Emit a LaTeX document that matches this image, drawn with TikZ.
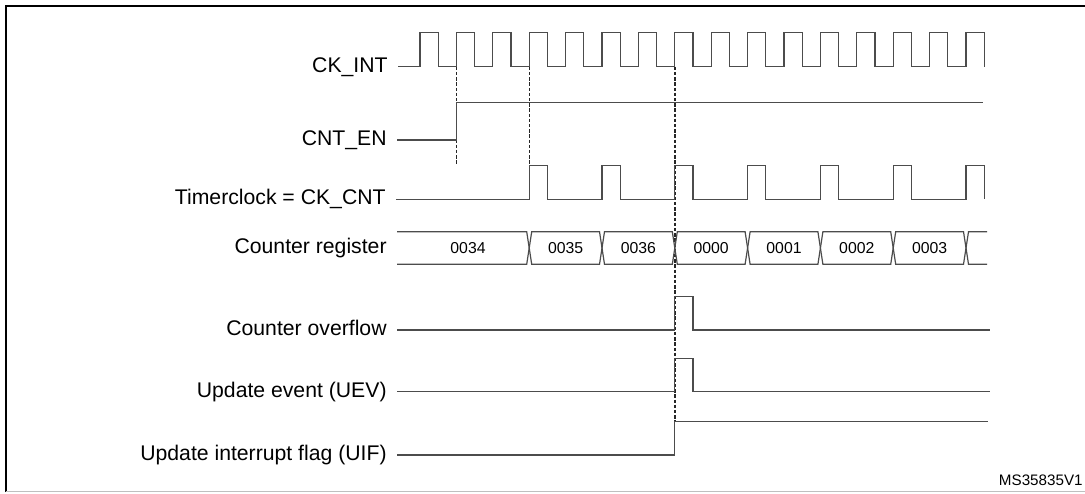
\documentclass[tikz,border=0pt]{standalone}
\usepackage{fontspec}
\setmainfont{Liberation Sans}
\begin{document}
\begin{tikzpicture}[x=0.5pt,y=-0.5pt,
    sig/.style={draw=black!70, line width=0.6pt},
    guide/.style={draw=black!85, line width=0.7pt, dash pattern=on 1.7pt off 0.9pt},
    lbl/.style={anchor=base east, inner sep=0pt, xshift=-5pt, yshift=-2.8pt, font=\fontsize{10.6}{12}\selectfont},
    val/.style={inner sep=0pt, font=\fontsize{7.9}{9}\selectfont}]
    \useasboundingbox (0,0) rectangle (1085,493);

    % Frame
    \draw[line width=1pt] (5.5,492) -- (5.5,5.5) -- (1095,5.5);
    \draw[black!25, line width=0.5pt] (5.5,491) -- (1085,491);

    % Signal start points
    \coordinate (ckint) at (398,66.7);
    \coordinate (cnten) at (397,140);
    \coordinate (ckcnt) at (396,199.3);
    \coordinate (cntreg) at (397,248);
    \coordinate (ovf) at (397,330);
    \coordinate (uev) at (397,391.7);
    \coordinate (uif) at (397,455);

    % Signal names
    \node[lbl] (lckint) at (ckint) {CK\_INT};
    \node[lbl] (lcnten) at (cnten) {CNT\_EN};
    \node[lbl] (lckcnt) at (ckcnt) {Timerclock = CK\_CNT};
    \node[lbl] (lcntreg) at (cntreg) {Counter register};
    \node[lbl] (lovf) at (ovf) {Counter overflow};
    \node[lbl] (luev) at (uev) {Update event (UEV)};
    \node[lbl] (luif) at (uif) {Update interrupt flag (UIF)};

    % Dashed guides
    \draw[guide] (456.4,66.7) -- (456.4,165);
    \draw[guide] (529.2,66.7) -- (529.2,199.3);
    \draw[guide] (674.8,66.7) -- (674.8,421.7);

    % CK_INT
    \draw[sig] (ckint) \foreach \k in {0,...,15} {
        -- ({420+36.4*\k},66.7) -- ({420+36.4*\k},32.7)
        -- ({438.2+36.4*\k},32.7) -- ({438.2+36.4*\k},66.7)};

    % CNT_EN
    \draw[sig] (cnten) -- (456.4,140) -- (456.4,102.7) -- (983,102.7);

    % Timerclock = CK_CNT
    \draw[sig] (ckcnt) \foreach \k in {3,5,...,15} {
        -- ({420+36.4*\k},199.3) -- ({420+36.4*\k},165.7)
        -- ({438.2+36.4*\k},165.7) -- ({438.2+36.4*\k},199.3)};

    % Counter register
    \draw[sig] (397,231.7) -- (526.7,231.7) -- (529.2,248) -- (526.7,264.3) -- (397,264.3);
    \node[val] (v0034) at (468,248) {0034};
    \foreach \k/\v in {3/0035,5/0036,7/0000,9/0001,11/0002,13/0003} {
        \draw[sig] ({420+36.4*\k},248) -- ({422.5+36.4*\k},231.7) -- ({490.3+36.4*\k},231.7)
            -- ({492.8+36.4*\k},248) -- ({490.3+36.4*\k},264.3) -- ({422.5+36.4*\k},264.3) -- cycle;
        \node[val] (v\v) at ({456.4+36.4*\k},248) {\v};
    }
    \draw[sig] (966,248) -- (968.5,231.7) -- (987,231.7) (966,248) -- (968.5,264.3) -- (987,264.3);

    % Counter overflow
    \draw[sig] (ovf) -- (674.8,330) -- (674.8,296.7) -- (693,296.7) -- (693,330) -- (990,330);

    % Update event
    \draw[sig] (uev) -- (674.8,391.7) -- (674.8,358.3) -- (693,358.3) -- (693,391.7) -- (990,391.7);

    % Update interrupt flag
    \draw[sig] (uif) -- (674.8,455) -- (674.8,421.7) -- (988,421.7);

    % Figure reference
    \node[anchor=base east, inner sep=0pt, font=\fontsize{7.6}{9}\selectfont] (ref) at (1083,485) {MS35835V1};
\end{tikzpicture}
\end{document}
